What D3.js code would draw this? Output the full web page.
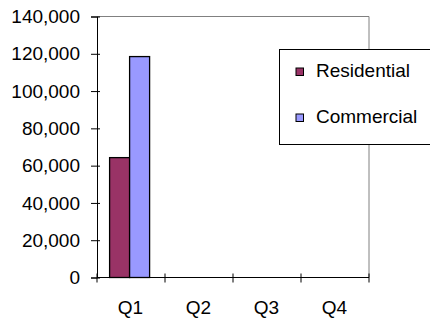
<!DOCTYPE html>
<html>
<head>
<meta charset="utf-8">
<script src="https://cdn.jsdelivr.net/npm/d3@7"></script>
<style>
  html, body { margin: 0; padding: 0; background: #fff; }
  svg { display: block; }
  text { font-family: "Liberation Sans", Arial, sans-serif; fill: #000; }
</style>
</head>
<body>
<svg id="chart" width="430" height="318"></svg>
<script>
const categories = ["Q1", "Q2", "Q3", "Q4"];
const seriesNames = ["Residential", "Commercial"];
const residential = [64300, null, null, null];
const commercial = [118500, null, null, null];
const seriesColors = ["#993366", "#9999FF"];
const yTicks = [0, 20000, 40000, 60000, 80000, 100000, 120000, 140000];

const svg = d3.select("#chart");
const mLeft = 97, mRight = 369, mTop = 16.5, mBottom = 277.5;
const fs = 19;

const x = d3.scaleBand().domain(categories).range([mLeft, mRight]).padding(0);
const x1 = d3.scaleBand().domain(seriesNames).range([0, x.bandwidth()])
  .paddingInner(0).paddingOuter(0.7).align(0.45);
const y = d3.scaleLinear().domain([0, 140000]).range([mBottom, mTop]);

// plot border (top & right, grey)
svg.append("path")
  .attr("d", `M${mLeft},${mTop}H${mRight}V${mBottom}`)
  .attr("fill", "none").attr("stroke", "#808080").attr("stroke-width", 1);

// bars
const data = seriesNames.map((s, i) => ({
  name: s, color: seriesColors[i], values: i === 0 ? residential : commercial
}));
data.forEach(s => {
  svg.append("g").selectAll("rect")
    .data(categories.map((c, j) => ({ c, v: s.values[j] })).filter(d => d.v != null))
    .join("rect")
    .attr("x", d => x(d.c) + x1(s.name))
    .attr("y", d => y(d.v))
    .attr("width", x1.bandwidth())
    .attr("height", d => y(0) - y(d.v))
    .attr("fill", s.color)
    .attr("stroke", "#000")
    .attr("stroke-width", 1.3);
});

// y axis
const yAxis = d3.axisLeft(y).tickValues(yTicks)
  .tickFormat(d3.format(",")).tickSize(6).tickPadding(10);
const gy = svg.append("g").attr("transform", `translate(${mLeft},0)`).call(yAxis);
gy.select(".domain").attr("stroke", "#000");
gy.selectAll(".tick line").attr("stroke", "#000").attr("x2", -6).attr("x1", 3);
gy.selectAll(".tick text").attr("font-size", fs).attr("x", -17)
  .attr("font-family", "'Liberation Sans', Arial, sans-serif").attr("fill", "#000");

// x axis
const gx = svg.append("g").attr("transform", `translate(0,${mBottom})`);
gx.append("line").attr("x1", mLeft).attr("x2", mRight).attr("y1", 0).attr("y2", 0)
  .attr("stroke", "#000");
const boundaries = categories.map(c => x(c)).concat([x(categories[categories.length - 1]) + x.bandwidth()]);
gx.selectAll("line.tk").data(boundaries).join("line").attr("class", "tk")
  .attr("x1", d => d).attr("x2", d => d).attr("y1", -4).attr("y2", 5)
  .attr("stroke", "#000");
gx.selectAll("text").data(categories).join("text")
  .attr("x", d => x(d) + x.bandwidth() / 2 - 0.5)
  .attr("y", 36.5)
  .attr("text-anchor", "middle")
  .attr("font-size", fs)
  .text(d => d);

// legend
const lg = svg.append("g");
lg.append("rect").attr("x", 279.5).attr("y", 49.5).attr("width", 170).attr("height", 95)
  .attr("fill", "#fff").attr("stroke", "#000").attr("stroke-width", 1);
const legY = [68, 114];
seriesNames.forEach((s, i) => {
  lg.append("rect").attr("x", 296).attr("y", legY[i]).attr("width", 7.5).attr("height", 7.5)
    .attr("fill", seriesColors[i]).attr("stroke", "#000").attr("stroke-width", 1);
  lg.append("text").attr("x", 316).attr("y", legY[i] + 9).attr("font-size", fs).text(s);
});
</script>
</body>
</html>
